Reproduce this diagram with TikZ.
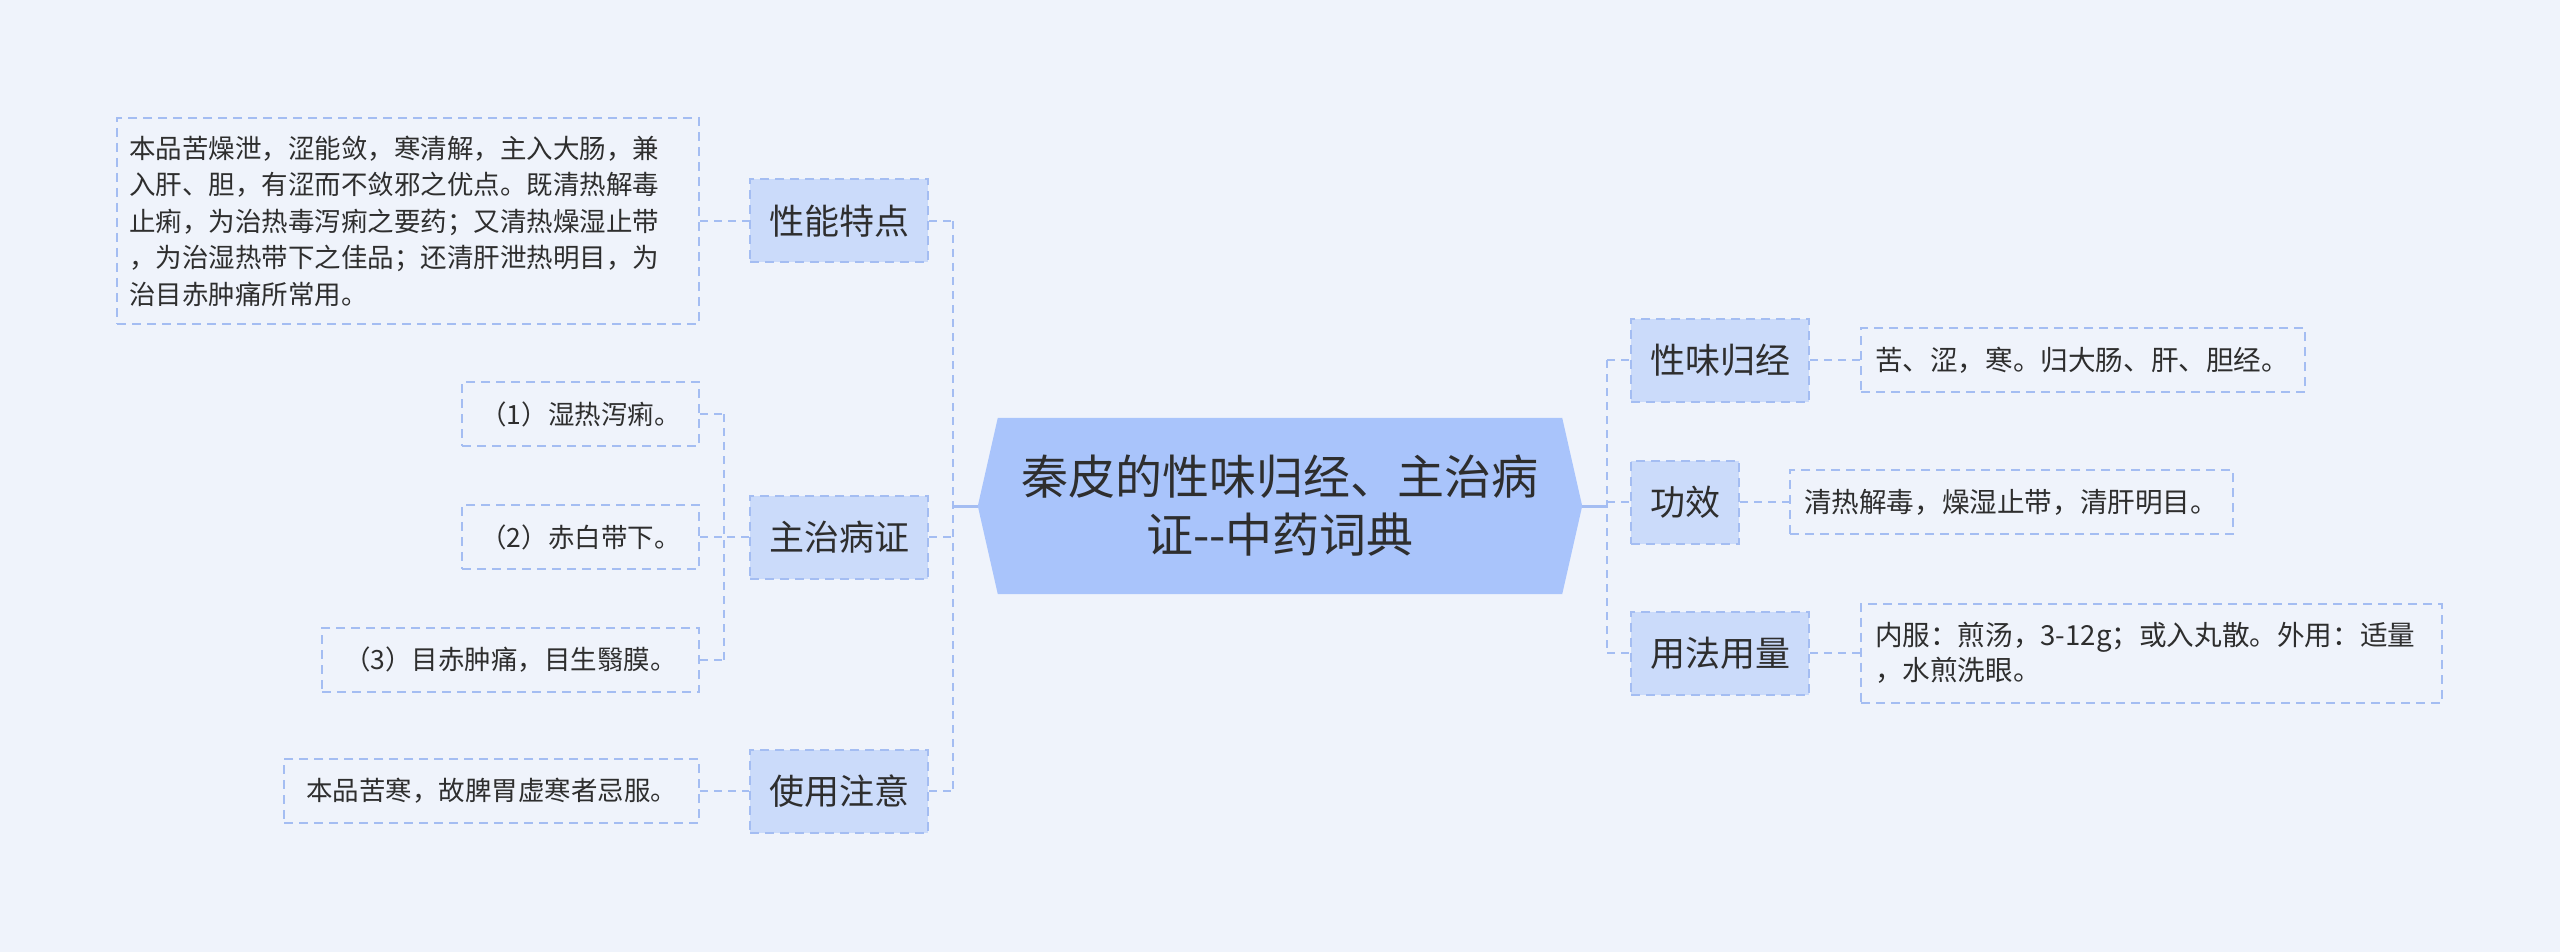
\documentclass[tikz,border=0pt]{standalone}
\usepackage{fontspec}
\newfontfamily\cjk{Noto Sans CJK SC}
\usetikzlibrary{backgrounds}
\definecolor{bgc}{HTML}{EFF3FB}
\definecolor{hexc}{HTML}{A9C4FB}
\definecolor{lonec}{HTML}{CBDBFA}
\definecolor{linec}{HTML}{A4BDF2}
\definecolor{txtc}{HTML}{2E2E2E}
\begin{document}
\begin{tikzpicture}[x=1pt,y=-1pt,
  every node/.style={text=txtc, inner sep=0pt},
  hexnode/.style={minimum width=604pt, minimum height=176pt, align=center,
    font=\cjk\fontsize{47}{58}\selectfont},
  lone/.style={draw=linec, fill=lonec, line width=2pt, dash pattern=on 9pt off 6pt,
    minimum height=83pt, font=\cjk\fontsize{35}{42}\selectfont},
  ltwo/.style={draw=linec, line width=2pt, dash pattern=on 9pt off 6pt,
    minimum height=64pt, align=left, font=\cjk\fontsize{26.5}{36.5}\selectfont},
  rtwo/.style={ltwo, font=\cjk\fontsize{27.6}{35}\selectfont},
  conn/.style={draw=linec, line width=2.5pt, dash pattern=on 8pt off 6pt},
  solidconn/.style={draw=linec, line width=3pt}
]
\useasboundingbox (0,0) rectangle (2560,952);

% central node
\node[hexnode] (c) at (1280,506) {秦皮的性味归经、主治病\\证-\kern0pt-中药词典};

% left level 1
\node[lone, minimum width=178pt] (a1) at (839,221) {性能特点};
\node[lone, minimum width=178pt] (a2) at (839,537) {主治病证};
\node[lone, minimum width=178pt] (a3) at (839,791) {使用注意};

% left level 2
\node[ltwo, text width=558pt, inner xsep=12pt, minimum height=206pt, anchor=east] (b1) at (700,221)
  {本品苦燥泄，涩能敛，寒清解，主入大肠，兼\\入肝、胆，有涩而不敛邪之优点。既清热解毒\\止痢，为治热毒泻痢之要药；又清热燥湿止带\\，为治湿热带下之佳品；还清肝泄热明目，为\\治目赤肿痛所常用。};
\node[ltwo, minimum width=237pt, anchor=east] (b2) at (700,414) {（1）湿热泻痢。};
\node[ltwo, minimum width=237pt, anchor=east] (b3) at (700,537) {（2）赤白带下。};
\node[ltwo, minimum width=377pt, anchor=east] (b4) at (700,660) {（3）目赤肿痛，目生翳膜。};
\node[ltwo, minimum width=415pt, anchor=east] (b5) at (700,791) {本品苦寒，故脾胃虚寒者忌服。};

% right level 1
\node[lone, minimum width=178pt] (r1) at (1720,360) {性味归经};
\node[lone, minimum width=108pt] (r2) at (1685,502) {功效};
\node[lone, minimum width=178pt] (r3) at (1720,653) {用法用量};

% right level 2
\node[rtwo, text width=416pt, inner xsep=14pt, anchor=west] (s1) at (1860,360) {苦、涩，寒。归大肠、肝、胆经。};
\node[rtwo, text width=415pt, inner xsep=14pt, anchor=west] (s2) at (1789,502) {清热解毒，燥湿止带，清肝明目。};
\node[rtwo, text width=553pt, inner xsep=14pt, minimum height=99pt, anchor=west] (s3) at (1860,653)
  {内服：煎汤，3-12g；或入丸散。外用：适量\\，水煎洗眼。};

% junction coordinates
\coordinate (tl) at (953,506);
\coordinate (tr) at (1607,506);
\coordinate (sl) at (724,537);

% left connectors
\draw[solidconn] (c.west) -- (tl);
\draw[conn] (tl |- a1.east) -- (tl |- a3.east);
\draw[conn] (a1.east) -- (tl |- a1.east);
\draw[conn] (a2.east) -- (tl |- a2.east);
\draw[conn] (a3.east) -- (tl |- a3.east);
\draw[conn] (b1.east) -- (a1.west);
\draw[conn] (a2.west) -- (sl);
\draw[conn] (sl |- b2.east) -- (sl |- b4.east);
\draw[conn] (b2.east) -- (sl |- b2.east);
\draw[conn] (b3.east) -- (sl |- b3.east);
\draw[conn] (b4.east) -- (sl |- b4.east);
\draw[conn] (b5.east) -- (a3.west);

% right connectors
\draw[solidconn] (c.east) -- (tr);
\draw[conn] (tr |- r1.west) -- (tr |- r3.west);
\draw[conn] (tr |- r1.west) -- (r1.west);
\draw[conn] (tr |- r2.west) -- (r2.west);
\draw[conn] (tr |- r3.west) -- (r3.west);
\draw[conn] (r1.east) -- (s1.west);
\draw[conn] (r2.east) -- (s2.west);
\draw[conn] (r3.east) -- (s3.west);

\begin{scope}[on background layer]
\fill[bgc] (0,0) rectangle (2560,952);
\fill[hexc] (c.west) -- ([xshift=20pt]c.north west) -- ([xshift=-20pt]c.north east)
  -- (c.east) -- ([xshift=-20pt]c.south east) -- ([xshift=20pt]c.south west) -- cycle;
\end{scope}
\end{tikzpicture}
\end{document}
